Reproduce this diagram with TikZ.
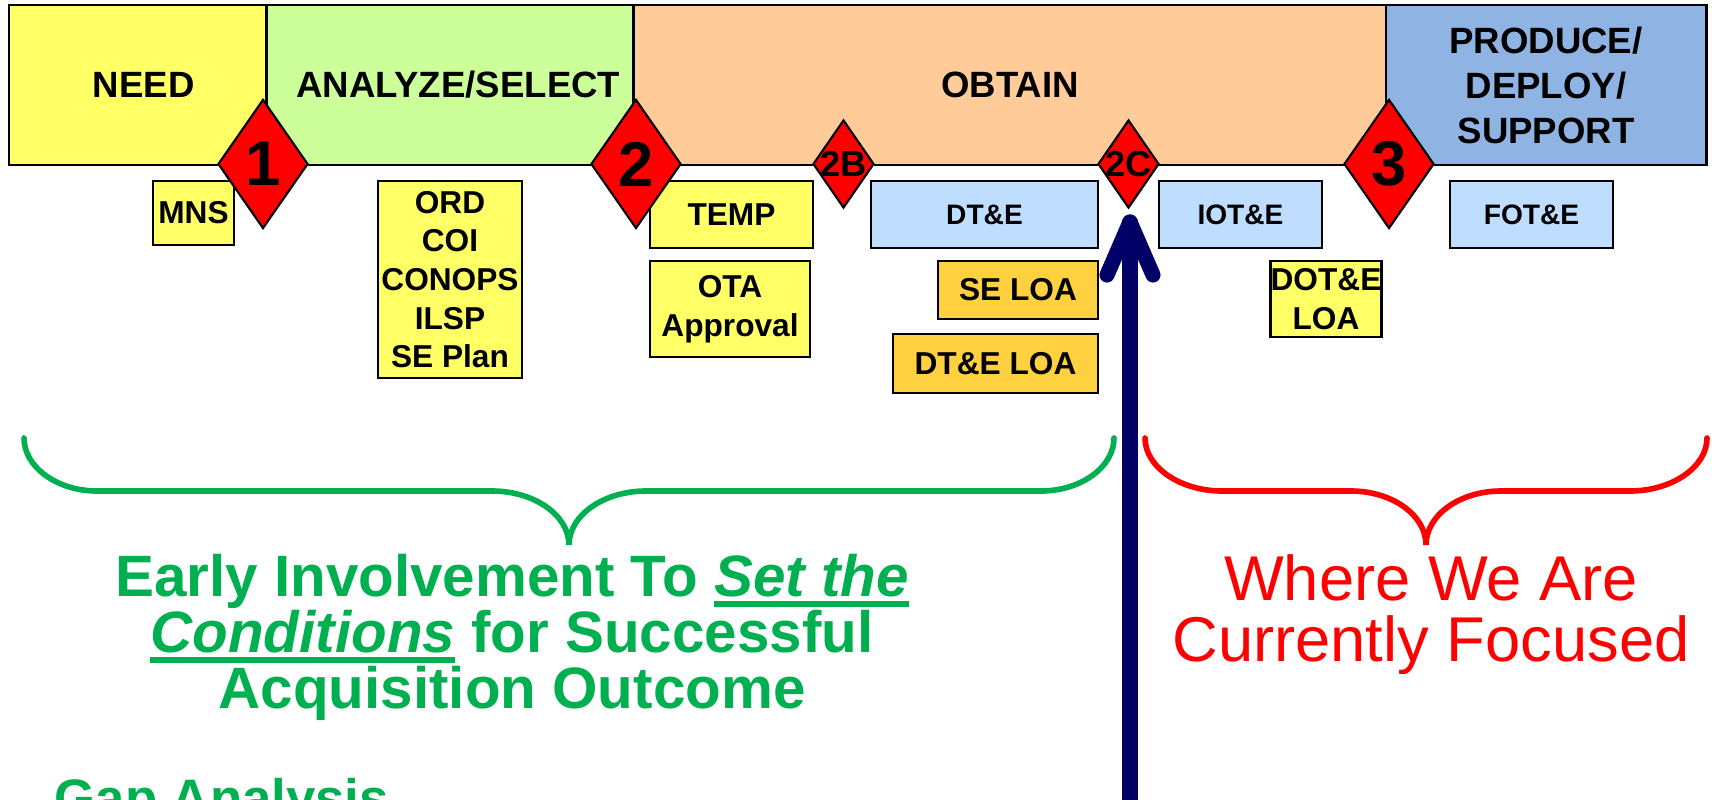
\documentclass[tikz,border=0pt]{standalone}
\usepackage{fontspec}
\setmainfont{Liberation Sans}
\usetikzlibrary{shapes.geometric,calc}
\definecolor{jaune}{HTML}{FFFF66}
\definecolor{vertclair}{HTML}{CCFF99}
\definecolor{peche}{HTML}{FFCC99}
\definecolor{bleuphase}{HTML}{8FB4E3}
\definecolor{bleuclair}{HTML}{BFDEFF}
\definecolor{orange}{HTML}{FFD040}
\definecolor{vert}{HTML}{00B050}
\definecolor{marine}{HTML}{000066}
\newcommand{\souligne}[1]{\setbox0\hbox{#1}\rlap{\rule[-3.1pt]{\wd0}{1.7pt}}\box0\relax}

\begin{document}
\begin{tikzpicture}[%
    x=0.01cm, y=-0.01cm,%
    phase/.style={draw, line width=0.8pt, inner sep=0pt, minimum height=1.6cm,%
      font=\fontsize{10.4}{12.8}\selectfont\bfseries, align=center},%
    doc/.style={draw, line width=0.8pt, inner sep=0pt, fill=jaune,%
      font=\fontsize{9}{11}\selectfont\bfseries, align=center},%
    essai/.style={doc, fill=bleuclair, font=\fontsize{8}{10}\selectfont\bfseries},%
    jalon/.style={diamond, draw, fill=red, line width=0.6pt, inner sep=0pt,%
      minimum width=0.9cm, minimum height=1.29cm},%
    petitjalon/.style={jalon, minimum width=0.61cm, minimum height=0.88cm},%
    numero/.style={font=\fontsize{18}{18}\selectfont\bfseries, inner sep=0pt},%
    accolade/.style={line width=1.6pt, line cap=round},%
    fleche/.style={marine, line width=4.3pt, line cap=round, line join=round}%
    ]
  \useasboundingbox (0,0) rectangle (1712,800);%
  \fill[white] (0,0) rectangle (1712,800);%

  % Phases
  \node[phase, fill=jaune, minimum width=2.575cm] (need) at (137.75,85) {\hspace*{0.12cm}NEED};%
  \node[phase, fill=vertclair, minimum width=3.675cm] (analyze) at (450.25,85) {\hspace*{0.16cm}ANALYZE/SELECT};%
  \node[phase, fill=peche, minimum width=7.52cm] (obtain) at (1010,85) {OBTAIN};%
  \node[phase, fill=bleuphase, minimum width=3.2cm] (produce) at (1546,85) {PRODUCE/\\DEPLOY/\\SUPPORT};%

  % Documents
  \node[doc, minimum width=0.81cm, minimum height=0.64cm] (mns) at (193.5,213) {MNS};%
  \node[doc, minimum width=1.44cm, minimum height=1.97cm] (ord) at (450,279.5) {ORD\\COI\\CONOPS\\ILSP\\SE Plan};%
  \node[doc, minimum width=1.63cm, minimum height=0.67cm] (temp) at (731.5,214.5) {TEMP};%
  \node[doc, minimum width=1.60cm, minimum height=0.96cm] (ota) at (730,309) {OTA\\Approval};%
  \node[essai, minimum width=2.27cm, minimum height=0.67cm] (dte) at (984.5,214.5) {DT\&E};%
  \node[doc, fill=orange, minimum width=1.60cm, minimum height=0.58cm] (seloa) at (1018,290) {SE LOA};%
  \node[doc, fill=orange, minimum width=2.05cm, minimum height=0.59cm] (dteloa) at (995.5,363.5) {DT\&E LOA};%
  \node[essai, minimum width=1.63cm, minimum height=0.67cm] (iote) at (1240.5,214.5) {IOT\&E};%
  \node[doc, minimum width=1.04cm, minimum height=0.76cm] (doteloa) at (1326,299) {DOT\&E\\LOA};%
  \node[essai, minimum width=1.63cm, minimum height=0.67cm] (fote) at (1531.5,214.5) {FOT\&E};%

  % Jalons
  \node[jalon] (m1) at (263,164) {};%
  \node[numero] at (m1) {1};%
  \node[jalon] (m2) at (636,164) {};%
  \node[numero] at (m2) {2};%
  \node[petitjalon] (m2B) at (843.5,164) {};%
  \node[numero, font=\fontsize{10.3}{10}\selectfont\bfseries] at (m2B) {2B};%
  \node[petitjalon] (m2C) at (1128.5,164) {};%
  \node[numero, font=\fontsize{10.3}{10}\selectfont\bfseries] at (m2C) {2C};%
  \node[jalon] (m3) at (1389,164) {};%
  \node[numero] at (m3) {3};%

  % Accolades
  \coordinate (g1) at (24,438);%
  \coordinate (g2) at (1114,438);%
  \coordinate (gp) at (569,545);%
  \draw[accolade, vert] (g1) .. controls (24,467) and (57,491) .. (97,491) -- (492,491)%
    .. controls (534,491) and (569,515) .. (gp) .. controls (569,515) and (604,491) .. (646,491)%
    -- (1041,491) .. controls (1081,491) and (1114,467) .. (g2);%
  \coordinate (r1) at (1145,438);%
  \coordinate (r2) at (1707,438);%
  \coordinate (rp) at (1426,545);%
  \draw[accolade, red] (r1) .. controls (1145,467) and (1180,491) .. (1222,491) -- (1351,491)%
    .. controls (1392,491) and (1426,515) .. (rp) .. controls (1426,515) and (1460,491) .. (1501,491)%
    -- (1630,491) .. controls (1672,491) and (1707,467) .. (r2);%

  % Textes
  \node[anchor=north, inner sep=0pt, align=center, text=vert,%
    font=\fontsize{16.6}{16}\selectfont\bfseries] (tvert) at (512,553)%
    {Early Involvement To \souligne{\itshape Set the}\\%
     \souligne{\itshape Conditions} for Successful\\%
     Acquisition Outcome};%
  \node[anchor=north, inner sep=0pt, align=center, text=red,%
    font=\fontsize{18}{17.4}\selectfont] (trouge) at (1431,554)%
    {Where We Are\\Currently Focused};%
  \node[anchor=north west, inner sep=0pt, text=vert,%
    font=\fontsize{15}{15}\selectfont\bfseries] (ecart) at (54,778) {Gap Analysis};%

  % Fleche
  \coordinate (base) at (1130,815);%
  \coordinate (pointe) at (1130,222);%
  \draw[fleche] (base) -- (pointe);%
  \draw[fleche] ($(pointe)+(-23,53)$) -- (pointe) -- ($(pointe)+(23,53)$);%
\end{tikzpicture}
\end{document}
